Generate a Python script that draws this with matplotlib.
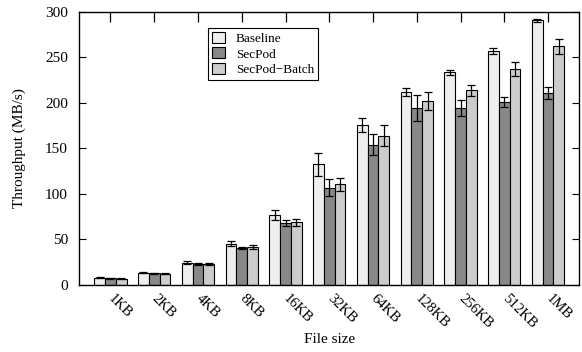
import numpy as np
import matplotlib.pyplot as plt

plt.rcParams['font.family'] = ['Liberation Serif', 'DejaVu Serif']

sizes = ["1KB", "2KB", "4KB", "8KB", "16KB", "32KB", "64KB", "128KB", "256KB", "512KB", "1MB"]
baseline = [8, 13.5, 24.5, 45.4, 77, 132.6, 175.8, 212, 233.3, 256.4, 290.4]
baseline_err = [0.5, 0.5, 1.5, 2.5, 5.5, 12.5, 8, 4, 2.5, 3.3, 2]
secpod = [7.5, 13, 23, 40.6, 68.4, 107, 153.8, 194, 194, 200.7, 210.6]
secpod_err = [0.5, 0.5, 1, 1.5, 3.5, 9, 11.5, 14.5, 9, 5.7, 6.6]
batch = [7, 12.4, 23, 41.7, 68.7, 110.6, 163.7, 201.8, 214, 237, 262]
batch_err = [0.5, 0.5, 1, 2, 3.5, 7, 11.5, 10, 6, 7.3, 8]

series = [("Baseline", baseline, baseline_err, "#eeeeee"),
          ("SecPod", secpod, secpod_err, "#888888"),
          ("SecPod\u2212Batch", batch, batch_err, "#cccccc")]

fig = plt.figure(figsize=(5.82, 3.52), dpi=100)
ax = fig.add_axes([0.1357, 0.1903, 0.8597, 0.7765])

x = np.arange(len(sizes))
w = 0.247
for i, (name, vals, errs, col) in enumerate(series):
    ax.bar(x + (i - 1) * w, vals, w, color=col, edgecolor="black", linewidth=0.8,
           label=name, yerr=errs, capsize=3,
           error_kw=dict(ecolor="black", elinewidth=0.9, capthick=0.9))

ax.set_xlim(-0.72, 10.715)
ax.set_ylim(0, 300)
ax.set_yticks(np.arange(0, 301, 50))
ax.set_xticks(x)
ax.set_xticklabels(sizes, rotation=-45, ha="left", va="center", rotation_mode="anchor")
ax.tick_params(axis="y", direction="in", length=5, right=True, labelsize=11, pad=8)
ax.tick_params(axis="x", direction="in", length=7, width=0.9, bottom=False, top=True,
               labelbottom=True, labelsize=10.5, pad=8)
for sp in ax.spines.values():
    sp.set_linewidth(1.0)

ax.set_xlabel("File size", fontsize=11)
ax.xaxis.set_label_coords(0.5, -0.175)
ax.set_ylabel("Throughput (MB/s)", fontsize=11, labelpad=14)

leg = ax.legend(loc="upper left", bbox_to_anchor=(0.245, 0.965), fontsize=9.5,
                frameon=True, fancybox=False, edgecolor="black", framealpha=1,
                handlelength=1.0, handleheight=0.9, handletextpad=0.8,
                borderpad=0.3, labelspacing=0.2)
leg.get_frame().set_linewidth(0.8)

fig.savefig("out.png", dpi=100)
